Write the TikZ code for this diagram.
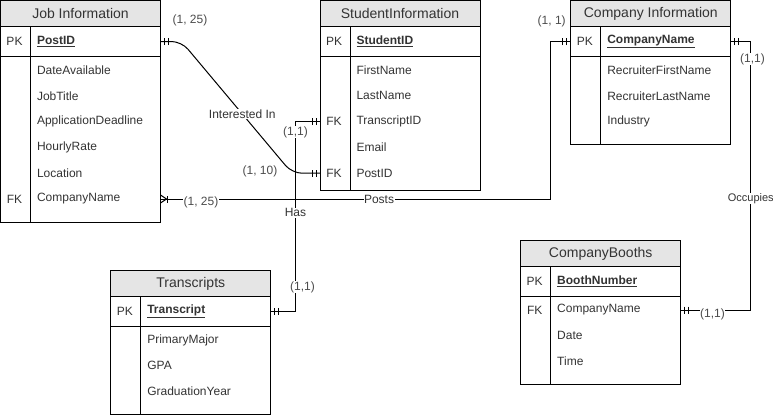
\documentclass[tikz,border=0pt]{standalone}
\usepackage{fontspec}
\setmainfont{Liberation Sans}
\usetikzlibrary{positioning,decorations.markings}

\tikzset{
  onestart/.style={postaction={decorate,decoration={markings,
      mark=at position 4pt with {\draw (0,-3.5pt) -- (0,3.5pt);},
      mark=at position 8pt with {\draw (0,-3.5pt) -- (0,3.5pt);}}}},
  oneend/.style={postaction={decorate,decoration={markings,
      mark=at position -4pt with {\draw (0,-3.5pt) -- (0,3.5pt);},
      mark=at position -8pt with {\draw (0,-3.5pt) -- (0,3.5pt);}}}},
  crowstart/.style={postaction={decorate,decoration={markings,
      mark=at position 0pt with {\draw (0,-4pt) -- (6pt,0) -- (0,4pt);},
      mark=at position 7pt with {\draw (0,-3.5pt) -- (0,3.5pt);}}}}
}

\begin{document}
\begin{tikzpicture}[x=1pt,y=-1pt,line width=1pt,
  tablehead/.style={draw, fill=gray!20, outer sep=0pt, inner sep=0pt, minimum width=160pt,
    minimum height=26pt, font=\fontsize{14}{16}\selectfont, text=black!80},
  tablebox/.style={draw, outer sep=0pt, inner sep=0pt, minimum width=160pt},
  keytag/.style={font=\fontsize{12}{14}\selectfont, text=black!80, inner sep=0pt},
  field/.style={font=\fontsize{12}{14}\selectfont, text=black!80, anchor=west, inner sep=0pt},
  card/.style={font=\fontsize{12}{14}\selectfont, text=black!70, fill=white, inner sep=0.5pt}]
  \useasboundingbox (0,0) rectangle (773,415);

  % Job Information
  \node[tablehead] (jobh) at (80.5,13.5) {Job Information};
  \node[tablebox, minimum height=30pt, below=0pt of jobh] (jobk) {};
  \node[tablebox, minimum height=165.5pt, below=0pt of jobk] (jobb) {};
  \draw ([xshift=30pt]jobk.north west) -- ([xshift=30pt]jobb.south west);
  \node[keytag] (jobpk) at ([xshift=14pt]jobk.west) {PK};
  \node[field] at ([xshift=36pt]jobk.west) {\underline{\textbf{PostID}}};
  \foreach \f [count=\i] in {DateAvailable,JobTitle,ApplicationDeadline,HourlyRate,Location,CompanyName}
    \node[field] (job\i) at ([xshift=36pt,yshift={-13.5pt-25.8pt*(\i-1)}]jobb.north west) {\f};
  \node[keytag] at (jobpk |- job6) {FK};

  % StudentInformation
  \node[tablehead] (stuh) at (400,13.5) {StudentInformation};
  \node[tablebox, minimum height=30pt, below=0pt of stuh] (stuk) {};
  \node[tablebox, minimum height=133.5pt, below=0pt of stuk] (stub) {};
  \draw ([xshift=30pt]stuk.north west) -- ([xshift=30pt]stub.south west);
  \node[keytag] (stupk) at ([xshift=14pt]stuk.west) {PK};
  \node[field] at ([xshift=36pt]stuk.west) {\underline{\textbf{StudentID}}};
  \foreach \f [count=\i] in {FirstName,LastName,TranscriptID,Email,PostID}
    \node[field] (stu\i) at ([xshift=36pt,yshift={-13.5pt-25.8pt*(\i-1)}]stub.north west) {\f};
  \node[keytag] at (stupk |- stu3) {FK};
  \node[keytag] at (stupk |- stu5) {FK};

  % Company Information
  \node[tablehead] (coh) at (650.8,13.5) {Company Information};
  \node[tablebox, minimum height=30pt, below=0pt of coh] (cok) {};
  \node[tablebox, minimum height=87.5pt, below=0pt of cok] (cob) {};
  \draw ([xshift=30pt]cok.north west) -- ([xshift=30pt]cob.south west);
  \node[keytag] at ([xshift=14pt]cok.west) {PK};
  \node[field] at ([xshift=36pt]cok.west) {\underline{\textbf{CompanyName}}};
  \foreach \f [count=\i] in {RecruiterFirstName,RecruiterLastName,Industry}
    \node[field] (co\i) at ([xshift=36pt,yshift={-13.5pt-25.8pt*(\i-1)}]cob.north west) {\f};

  % Transcripts
  \node[tablehead] (trh) at (190.8,283.7) {Transcripts};
  \node[tablebox, minimum height=30pt, below=0pt of trh] (trk) {};
  \node[tablebox, minimum height=87.3pt, below=0pt of trk] (trb) {};
  \draw ([xshift=30pt]trk.north west) -- ([xshift=30pt]trb.south west);
  \node[keytag] at ([xshift=14pt]trk.west) {PK};
  \node[field] at ([xshift=36pt]trk.west) {\underline{\textbf{Transcript}}};
  \foreach \f [count=\i] in {PrimaryMajor,GPA,GraduationYear}
    \node[field] (tr\i) at ([xshift=36pt,yshift={-13.3pt-25.5pt*(\i-1)}]trb.north west) {\f};

  % CompanyBooths
  \node[tablehead] (cbh) at (600.7,253.7) {CompanyBooths};
  \node[tablebox, minimum height=30pt, below=0pt of cbh] (cbk) {};
  \node[tablebox, minimum height=87.3pt, below=0pt of cbk] (cbb) {};
  \draw ([xshift=30pt]cbk.north west) -- ([xshift=30pt]cbb.south west);
  \node[keytag] (cbpk) at ([xshift=14pt]cbk.west) {PK};
  \node[field] at ([xshift=36pt]cbk.west) {\underline{\textbf{BoothNumber}}};
  \foreach \f [count=\i] in {CompanyName,Date,Time}
    \node[field] (cb\i) at ([xshift=36pt,yshift={-13.3pt-25.8pt*(\i-1)}]cbb.north west) {\f};
  \node[keytag] at (cbpk |- cb1) {FK};

  % relationships
  \draw[onestart, oneend, rounded corners=10pt] (jobk.east) -- ++(21,0)
    -- node[card, text=black!80, pos=0.55] {Interested In} ([xshift=-28pt]stub.west |- stu5)
    -- (stub.west |- stu5);
  \draw[onestart, oneend] (stub.west |- stu3) -- ++(-24.5,0)
    |- node[card, text=black!80, pos=0.24] {Has} (trk.east);
  \draw[crowstart, oneend] (jobb.east |- job6)
    -| node[card, text=black!80, pos=0.28] {Posts} ([xshift=-20pt]cok.west) -- (cok.west);
  \draw[onestart, oneend] (cok.east) -- ++(20,0)
    |- node[card, text=black!80, pos=0.293, font=\fontsize{11}{13}\selectfont] {Occupies} (cbb.east |- cb1);

  % cardinalities
  \node[card] at (190,20) {(1, 25)};
  \node[card] at (260,171.5) {(1, 10)};
  \node[card] at (201,202) {(1, 25)};
  \node[card] at (551.7,21) {(1, 1)};
  \node[card] at (295.5,132) {(1,1)};
  \node[card] at (302.5,287) {(1,1)};
  \node[card] at (752.5,59) {(1,1)};
  \node[card] at (712.5,314) {(1,1)};
\end{tikzpicture}
\end{document}
